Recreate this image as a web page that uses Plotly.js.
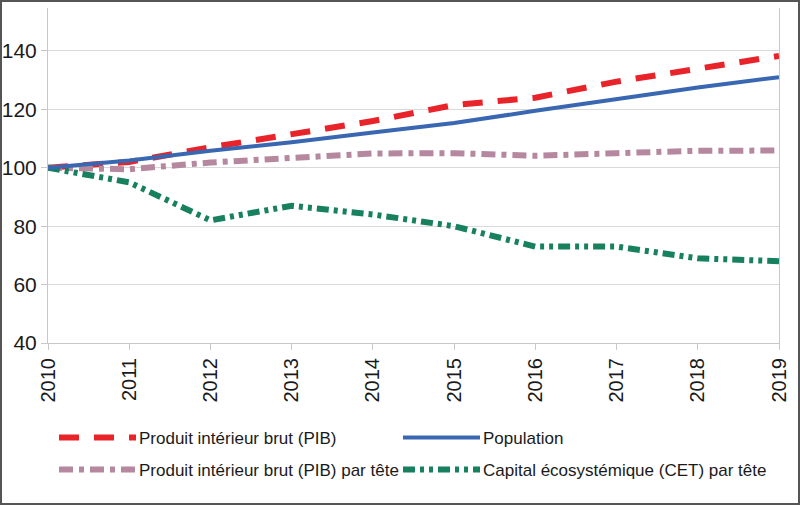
<!DOCTYPE html>
<html>
<head>
<meta charset="utf-8">
<script src="https://cdn.plot.ly/plotly-3.0.1.min.js"></script>
<style>
  html, body { margin: 0; padding: 0; background: #fff; }
  #wrap { width: 796px; height: 501px; border: 2px solid #555; }
</style>
</head>
<body>
<div id="wrap"></div>
<script>
const years = [2010, 2011, 2012, 2013, 2014, 2015, 2016, 2017, 2018, 2019];
const pib = [100, 102, 107, 111.5, 116, 121.5, 124, 129.5, 134, 138.3];
const population = [100, 102.5, 105.8, 108.7, 112.1, 115.3, 119.5, 123.5, 127.5, 131];
const pibParTete = [100, 99.5, 101.8, 103.3, 104.9, 105, 104.1, 105, 105.8, 105.9];
const cetParTete = [100, 95, 82, 87, 84, 80, 73, 73, 69, 68];
const yTicks = [40, 60, 80, 100, 120, 140];
const names = [
  'Produit intérieur brut (PIB)',
  'Population',
  'Produit intérieur brut (PIB) par tête',
  'Capital écosystémique (CET) par tête'
];

const legFont = { family: '"Liberation Sans", Arial, sans-serif', size: 17, color: '#1a1a1a' };

const traces = [
  { x: years, y: pib, name: names[0], legend: 'legend', mode: 'lines',
    line: { color: '#e8242a', width: 6, dash: '20px,15px' } },
  { x: years, y: pibParTete, name: names[2], legend: 'legend3', mode: 'lines',
    line: { color: '#b5889f', width: 6, dash: '14px,6px,5px,6px' } },
  { x: years, y: cetParTete, name: names[3], legend: 'legend4', mode: 'lines',
    line: { color: '#16805f', width: 6, dash: '12px,5px,4px,5px,4px,5px' } },
  { x: years, y: population, name: names[1], legend: 'legend2', mode: 'lines',
    line: { color: '#3a67b1', width: 4 } }
];

function leg(x, y) {
  return { x: x, y: y, xanchor: 'left', yanchor: 'middle', bgcolor: 'rgba(0,0,0,0)',
           borderwidth: 0, font: legFont, itemwidth: 75, orientation: 'v' };
}

const layout = {
  width: 796, height: 501,
  margin: { l: 46, r: 19, t: 6, b: 160, autoexpand: false },
  paper_bgcolor: '#fff', plot_bgcolor: '#fff',
  showlegend: true,
  xaxis: {
    range: [2010, 2019], tickvals: years, ticktext: years.map(String),
    tickangle: -90, ticks: 'outside', ticklen: 6, tickcolor: '#c8c8c8',
    showgrid: false, zeroline: false, showline: true, linecolor: '#c8c8c8', linewidth: 1,
    tickfont: { family: '"Liberation Sans", Arial, sans-serif', size: 20, color: '#1a1a1a' }
  },
  yaxis: {
    range: [40, 154.7], tickvals: yTicks, ticks: 'outside', ticklen: 6, tickcolor: '#c8c8c8',
    showgrid: true, gridcolor: '#d9d9d9', gridwidth: 1, zeroline: false,
    showline: true, linecolor: '#c8c8c8', linewidth: 1, mirror: true,
    tickfont: { family: '"Liberation Sans", Arial, sans-serif', size: 21, color: '#1a1a1a' }
  },
  legend: leg(0.0082, -0.2836),
  legend2: leg(0.4788, -0.2836),
  legend3: leg(0.0082, -0.379),
  legend4: leg(0.4788, -0.379)
};

Plotly.newPlot('wrap', traces, layout, { displayModeBar: false, staticPlot: true }).then(function () {
  document.querySelectorAll('.legendlines path').forEach(function (p) {
    p.setAttribute('d', 'M5,0h77');
  });
});
</script>
</body>
</html>
